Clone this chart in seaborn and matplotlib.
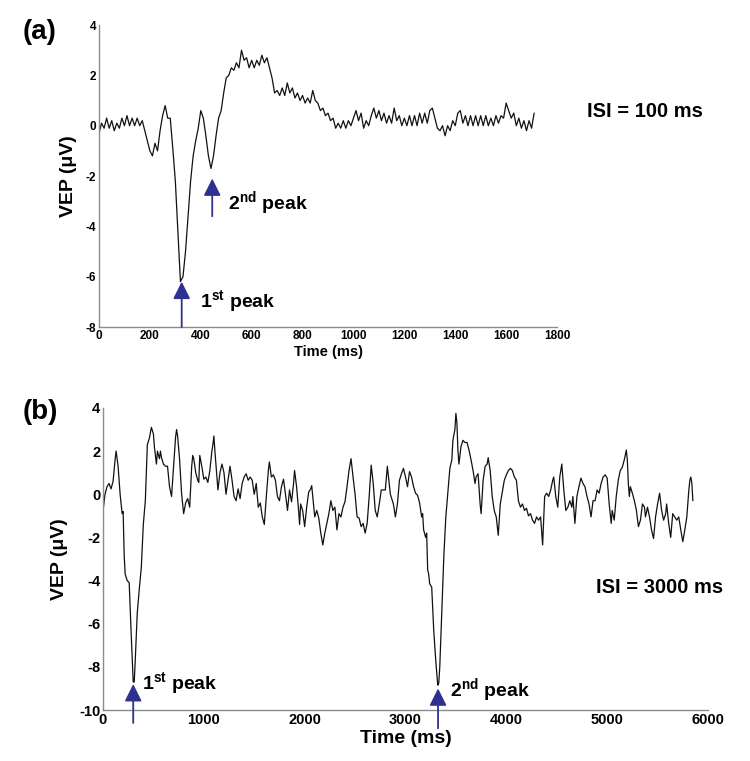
import numpy as np
import matplotlib
matplotlib.use("Agg")
import matplotlib.pyplot as plt
import seaborn as sns

# panel (a): ISI = 100 ms, one value every 10 ms from 0 to 1710 ms
vep_a_time = np.arange(0, 1720, 10)
vep_a = [
    -0.3, 0.1, -0.1, 0.3, -0.1, 0.2, -0.2, 0.1, -0.1, 0.3,
    0.0, 0.4, 0.0, 0.3, 0.0, 0.3, 0.0, 0.2, -0.2, -0.6,
    -1.0, -1.2, -0.7, -1.0, -0.2, 0.4, 0.8, 0.3, 0.3, -0.9,
    -2.2, -4.2, -6.2, -6.0, -5.0, -3.6, -2.2, -1.2, -0.6, -0.1,
    0.6, 0.3, -0.4, -1.2, -1.7, -1.2, -0.4, 0.3, 0.6, 1.3,
    1.9, 2.0, 2.3, 2.2, 2.5, 2.3, 3.0, 2.6, 2.7, 2.3,
    2.6, 2.3, 2.6, 2.4, 2.8, 2.5, 2.7, 2.3, 1.9, 1.3,
    1.4, 1.2, 1.5, 1.2, 1.7, 1.3, 1.5, 1.1, 1.3, 1.0,
    1.2, 0.9, 1.1, 0.9, 1.4, 1.0, 0.9, 0.6, 0.7, 0.4,
    0.5, 0.2, 0.3, -0.1, 0.1, -0.1, 0.2, -0.1, 0.2, 0.0,
    0.3, 0.6, 0.2, 0.5, -0.1, 0.2, 0.0, 0.4, 0.7, 0.3,
    0.6, 0.2, 0.5, 0.1, 0.4, 0.1, 0.7, 0.2, 0.4, 0.0,
    0.3, 0.0, 0.4, 0.0, 0.4, 0.0, 0.5, 0.1, 0.5, 0.1,
    0.6, 0.7, 0.3, -0.1, -0.2, 0.0, -0.4, 0.0, -0.2, 0.2,
    0.0, 0.5, 0.6, 0.1, 0.4, 0.0, 0.4, 0.0, 0.4, 0.0,
    0.4, 0.0, 0.4, 0.0, 0.3, 0.0, 0.4, 0.1, 0.4, 0.3,
    0.9, 0.6, 0.3, 0.5, 0.0, 0.3, -0.1, 0.2, -0.2, 0.2,
    -0.1, 0.5,
]

# panel (b): ISI = 3000 ms
vep_b_time = [
    0, 20, 40, 60, 80, 100, 120, 130, 150, 170, 190, 200, 210, 220, 240, 260,
    280, 300, 310, 320, 340, 360, 380, 400, 420, 440, 460, 480, 500, 510, 520,
    530, 540, 560, 570, 580, 600, 620, 640, 660, 680, 700, 720, 730, 740, 760,
    780, 800, 820, 840, 860, 880, 890, 900, 920, 940, 950, 960, 980, 1000,
    1020, 1040, 1060, 1080, 1090, 1100, 1110, 1120, 1140, 1160, 1180, 1200,
    1220, 1240, 1260, 1280, 1300, 1320, 1340, 1360, 1380, 1400, 1420, 1440,
    1460, 1480, 1500, 1520, 1540, 1560, 1580, 1600, 1620, 1640, 1650, 1670,
    1690, 1710, 1730, 1750, 1770, 1790, 1810, 1830, 1850, 1870, 1890, 1900,
    1920, 1940, 1950, 1960, 1980, 2000, 2020, 2040, 2060, 2070, 2080, 2100,
    2120, 2140, 2160, 2180, 2200, 2220, 2240, 2260, 2280, 2300, 2320, 2340,
    2360, 2380, 2400, 2420, 2440, 2460, 2480, 2500, 2520, 2540, 2560, 2580,
    2600, 2620, 2640, 2660, 2680, 2700, 2720, 2740, 2760, 2780, 2800, 2820,
    2850, 2880, 2900, 2920, 2940, 2960, 2980, 3000, 3020, 3040, 3060, 3080,
    3100, 3120, 3140, 3160, 3170, 3180, 3200, 3210, 3220, 3230, 3240, 3260,
    3280, 3300, 3320, 3330, 3340, 3360, 3380, 3400, 3420, 3440, 3460, 3470,
    3490, 3500, 3510, 3520, 3530, 3550, 3570, 3590, 3610, 3630, 3650, 3670,
    3690, 3700, 3720, 3740, 3750, 3770, 3790, 3810, 3820, 3840, 3860, 3880,
    3900, 3920, 3940, 3960, 3980, 4000, 4020, 4040, 4060, 4080, 4100, 4120,
    4140, 4160, 4180, 4200, 4220, 4240, 4260, 4280, 4300, 4320, 4340, 4360,
    4380, 4400, 4420, 4440, 4460, 4470, 4490, 4510, 4530, 4550, 4570, 4590,
    4610, 4630, 4650, 4660, 4680, 4700, 4720, 4740, 4760, 4780, 4800, 4820,
    4840, 4860, 4880, 4900, 4920, 4940, 4960, 4980, 5000, 5020, 5040, 5050,
    5070, 5090, 5110, 5130, 5150, 5170, 5190, 5200, 5210, 5220, 5230, 5250,
    5270, 5290, 5310, 5330, 5350, 5370, 5380, 5400, 5420, 5440, 5460, 5480,
    5500, 5520, 5540, 5560, 5580, 5590, 5610, 5630, 5650, 5670, 5690, 5710,
    5730, 5750, 5770, 5790, 5800, 5810, 5820, 5830, 5840, 5850,
]
vep_b = [
    -0.8, 0.0, 0.35, 0.5, 0.25, 0.6, 1.6, 2.0, 1.3, 0.0, -0.9, -0.8, -2.8,
    -3.7, -4.0, -4.1, -6.5, -8.7, -8.7, -7.7, -5.5, -4.4, -3.4, -1.4, -0.3,
    2.3, 2.6, 3.1, 2.8, 2.2, 1.8, 1.4, 2.0, 1.65, 2.0, 1.7, 1.4, 1.3, 1.3,
    0.35, -0.1, 1.3, 2.65, 3.0, 2.7, 1.6, 0.0, -0.9, -0.4, -0.2, -0.6, 1.3,
    1.8, 1.65, 1.0, 0.65, 0.55, 1.8, 1.3, 0.7, 0.8, 0.55, 1.1, 2.0, 2.3, 2.7,
    2.0, 1.4, 0.2, 1.0, 1.4, 1.0, 0.0, 0.65, 1.3, 0.65, -0.1, -0.3, 0.25,
    -0.2, 0.5, 0.8, 0.95, 0.65, 0.8, 0.65, 0.0, 0.5, -0.6, -0.4, -1.05, -1.4,
    -0.1, 1.1, 1.5, 0.8, 0.9, 0.65, -0.1, -0.3, 0.35, 0.7, 0.0, -0.75, 0.2,
    -0.35, 0.5, 1.1, 0.35, -0.75, -1.4, -0.45, -0.75, -1.5, -0.6, 0.1, 0.25,
    0.4, -0.1, -1.05, -0.75, -1.1, -1.8, -2.35, -1.8, -1.35, -0.9, -0.3,
    -0.75, -0.6, -1.65, -0.9, -1.05, -0.6, -0.35, 0.35, 1.1, 1.65, 0.8, 0.0,
    -1.05, -1.1, -1.5, -1.35, -1.8, -1.35, -0.1, 1.35, 0.5, -0.75, -1.05,
    -0.45, 0.2, 0.2, 0.2, 1.3, 0.0, -0.45, -1.05, -0.45, 0.65, 0.95, 1.2,
    0.8, 0.35, 1.05, 0.8, 0.35, 0.05, -0.05, -0.4, -1.05, -0.9, -1.65, -2.0,
    -1.8, -3.5, -3.7, -4.15, -4.3, -6.3, -7.7, -8.85, -8.75, -8.0, -5.4,
    -2.9, -1.05, 0.05, 1.2, 1.6, 2.5, 3.0, 3.75, 3.3, 2.05, 1.4, 2.2, 2.5,
    2.4, 2.4, 2.05, 1.6, 1.1, 0.5, 0.8, 0.95, -0.45, -0.9, 0.65, 1.3, 1.4,
    1.7, 1.1, -0.1, -0.75, -1.05, -1.9, -0.45, 0.1, 0.65, 0.9, 1.1, 1.2, 1.1,
    0.8, 0.65, -0.3, -0.6, -0.45, -0.75, -0.65, -1.0, -0.9, -1.2, -1.35,
    -1.05, -1.2, -1.05, -2.35, -0.1, 0.05, -0.1, 0.2, 0.65, 0.8, -0.1, -0.6,
    0.8, 1.4, 0.2, -0.75, -0.6, -0.3, -0.6, -0.1, -1.35, -0.1, 0.35, 0.75,
    0.5, 0.35, -0.1, -0.45, -1.05, -0.3, -0.3, 0.2, 0.05, 0.5, 0.8, 0.9,
    0.75, -0.45, -1.35, -0.75, -1.2, -0.1, 0.65, 1.1, 1.25, 1.6, 2.05, 1.6,
    0.5, -0.1, 0.35, 0.05, -0.3, -0.75, -1.5, -1.2, -0.45, -0.6, -1.05, -0.6,
    -1.05, -1.65, -2.05, -1.05, -0.45, 0.05, -0.75, -1.2, -0.9, -0.45, -1.35,
    -2.0, -0.9, -1.05, -1.2, -1.05, -1.65, -2.2, -1.65, -1.05, -0.45, 0.2,
    0.65, 0.8, 0.5, -0.3,
]

# peak arrows: (time, tip value, tail value)
peaks_a = [(325, -6.2, -8.0), (445, -2.1, -3.6)]
peaks_b = [(300, -8.8, -10.6), (3323, -9.0, -10.85)]

sns.set_style("white")
plt.rcParams['font.family'] = ['Liberation Sans', 'DejaVu Sans']
plt.rcParams['font.weight'] = 'bold'
plt.rcParams['text.color'] = 'black'
plt.rcParams['axes.labelcolor'] = 'black'
plt.rcParams['axes.unicode_minus'] = False
plt.rcParams['mathtext.fontset'] = 'custom'
plt.rcParams['mathtext.rm'] = 'Liberation Sans:bold'
plt.rcParams['mathtext.bf'] = 'Liberation Sans:bold'

arrow_color = '#2e3192'

fig = plt.figure(figsize=(7.5, 7.61), dpi=100)
ax1 = fig.add_axes([0.132, 0.5703, 0.6107, 0.3968])
ax2 = fig.add_axes([0.1373, 0.0670, 0.8067, 0.3969])

sns.lineplot(x=vep_a_time, y=vep_a, ax=ax1, color='#111111', lw=0.9, estimator=None)
sns.lineplot(x=vep_b_time, y=vep_b, ax=ax2, color='#111111', lw=0.9, estimator=None)


def style_axis(ax, xmax, xstep, ymin, tick_size, label_size, xpad, ypad):
    ax.set_xlim(0, xmax)
    ax.set_ylim(ymin, 4)
    ax.set_xticks(np.arange(0, xmax + 1, xstep))
    ax.set_yticks(np.arange(ymin, 5, 2))
    for side in ['top', 'right']:
        ax.spines[side].set_visible(False)
    for side in ['left', 'bottom']:
        ax.spines[side].set_color('#8c8c8c')
        ax.spines[side].set_linewidth(1.0)
    ax.tick_params(direction='in', length=4, width=0.8, color='#8c8c8c',
                   labelcolor='black', labelsize=tick_size, pad=2)
    for lab in ax.get_xticklabels() + ax.get_yticklabels():
        lab.set_fontweight('bold')
    ax.set_xlabel('Time (ms)', fontsize=label_size, fontweight='bold', labelpad=xpad)
    ax.set_ylabel('VEP (μV)', fontsize=14, fontweight='bold', labelpad=ypad)


style_axis(ax1, 1800, 200, -8, 8.5, 10.5, 2, 6)
style_axis(ax2, 6000, 1000, -10, 10.5, 14, 2, 8)


def draw_peaks(ax, peaks, labels):
    for (t, tip, tail), (lx, ly, txt) in zip(peaks, labels):
        ax.annotate('', xy=(t, tip), xytext=(t, tail), annotation_clip=False,
                    arrowprops=dict(arrowstyle='-|>', color=arrow_color, lw=1.3,
                                    mutation_scale=26, shrinkA=0, shrinkB=0))
        ax.text(lx, ly, txt, fontsize=14, fontweight='bold', va='center',
                ha='left', clip_on=False)


draw_peaks(ax1, peaks_a, [(395, -7.0, '1$^{\\mathrm{st}}$ peak'),
                          (505, -3.1, '2$^{\\mathrm{nd}}$ peak')])
draw_peaks(ax2, peaks_b, [(390, -8.8, '1$^{\\mathrm{st}}$ peak'),
                          (3440, -9.1, '2$^{\\mathrm{nd}}$ peak')])

ax1.text(1918, 0.55, 'ISI = 100 ms', fontsize=14.5, fontweight='bold',
         va='center', ha='left', clip_on=False)
ax2.text(4890, -4.3, 'ISI = 3000 ms', fontsize=14.5, fontweight='bold',
         va='center', ha='left', clip_on=False)

fig.text(23 / 750, 1 - 32 / 761, '(a)', fontsize=20, fontweight='bold', va='center')
fig.text(23 / 750, 1 - 412 / 761, '(b)', fontsize=20, fontweight='bold', va='center')

fig.savefig('out.png', dpi=100)
